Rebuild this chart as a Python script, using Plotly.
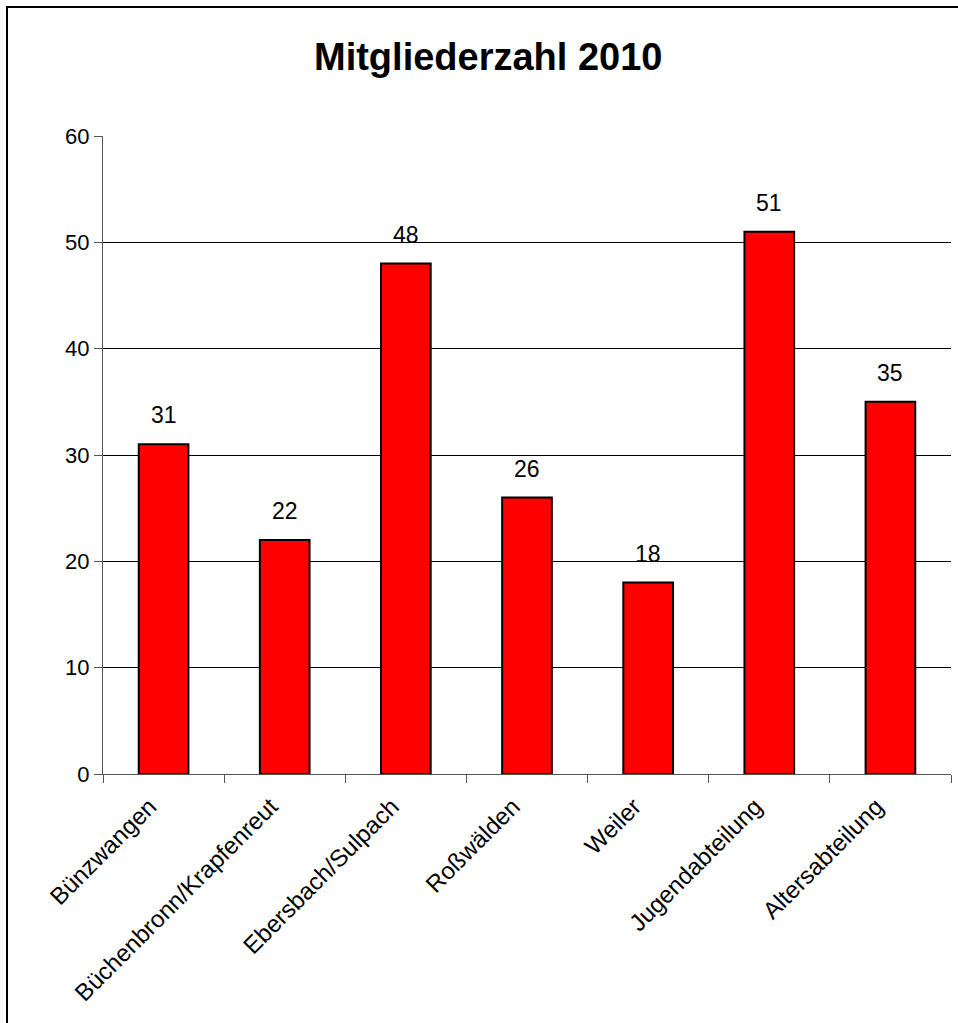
import plotly.graph_objects as go

categories = ["Bünzwangen", "Büchenbronn/Krapfenreut", "Ebersbach/Sulpach",
              "Roßwälden", "Weiler", "Jugendabteilung", "Altersabteilung"]
values = [31, 22, 48, 26, 18, 51, 35]
y_ticks = [0, 10, 20, 30, 40, 50, 60]
title_text = "Mitgliederzahl 2010"

W, H = 958, 1023
L, R, T, B = 103, 7, 136, 249
pw, ph = W - L - R, H - T - B
FONT = "Liberation Sans, Arial"

def px_to_paper_x(px):
    return (px - L) / pw

def px_to_paper_y(py):
    return (H - B - py) / ph

fig = go.Figure()
fig.add_trace(go.Bar(
    x=categories, y=values,
    marker=dict(color="#FF0000", line=dict(color="black", width=2)),
    width=0.41,
))

annotations = [
    dict(x=c, y=v, xref="x", yref="y", text=str(v), showarrow=False,
         yanchor="bottom", yshift=14,
         font=dict(family=FONT, size=23, color="black"))
    for c, v in zip(categories, values)
]
annotations.append(dict(
    x=px_to_paper_x(488), y=px_to_paper_y(57), xref="paper", yref="paper",
    text="<b>" + title_text + "</b>", showarrow=False,
    xanchor="center", yanchor="middle",
    font=dict(family=FONT, size=38, color="black")))

shapes = [
    dict(type="line", xref="paper", yref="paper",
         x0=px_to_paper_x(7), x1=px_to_paper_x(7),
         y0=px_to_paper_y(7), y1=px_to_paper_y(1030),
         line=dict(color="black", width=2)),
    dict(type="line", xref="paper", yref="paper",
         x0=px_to_paper_x(6), x1=px_to_paper_x(965),
         y0=px_to_paper_y(7), y1=px_to_paper_y(7),
         line=dict(color="black", width=2)),
]

fig.update_layout(
    width=W, height=H,
    margin=dict(l=L, r=R, t=T, b=B, autoexpand=False),
    paper_bgcolor="white", plot_bgcolor="white",
    showlegend=False,
    font=dict(family=FONT, size=22, color="black"),
    annotations=annotations, shapes=shapes,
    xaxis=dict(
        type="category", tickangle=-45, tickson="boundaries",
        ticks="outside", ticklen=8, tickcolor="#555555", tickwidth=1,
        showline=True, linecolor="#555555", linewidth=1,
        showgrid=False, automargin=False,
        ticklabelshift=-14, ticklabelstandoff=8,
        tickfont=dict(family=FONT, size=24, color="black"),
        range=[-0.5, len(categories) - 0.5],
    ),
    yaxis=dict(
        range=[0, 60], tickvals=y_ticks, ticktext=[str(t) for t in y_ticks],
        ticks="outside", ticklen=8, tickcolor="#555555", tickwidth=1,
        showline=True, linecolor="#555555", linewidth=1,
        showgrid=True, gridcolor="black", gridwidth=1,
        zeroline=False, automargin=False,
        tickfont=dict(family=FONT, size=22, color="black"),
    ),
    bargap=0.59,
)

fig.write_html("out.html", config={"displayModeBar": False},
               post_script="document.body.style.margin='0';document.body.style.overflow='hidden';")
